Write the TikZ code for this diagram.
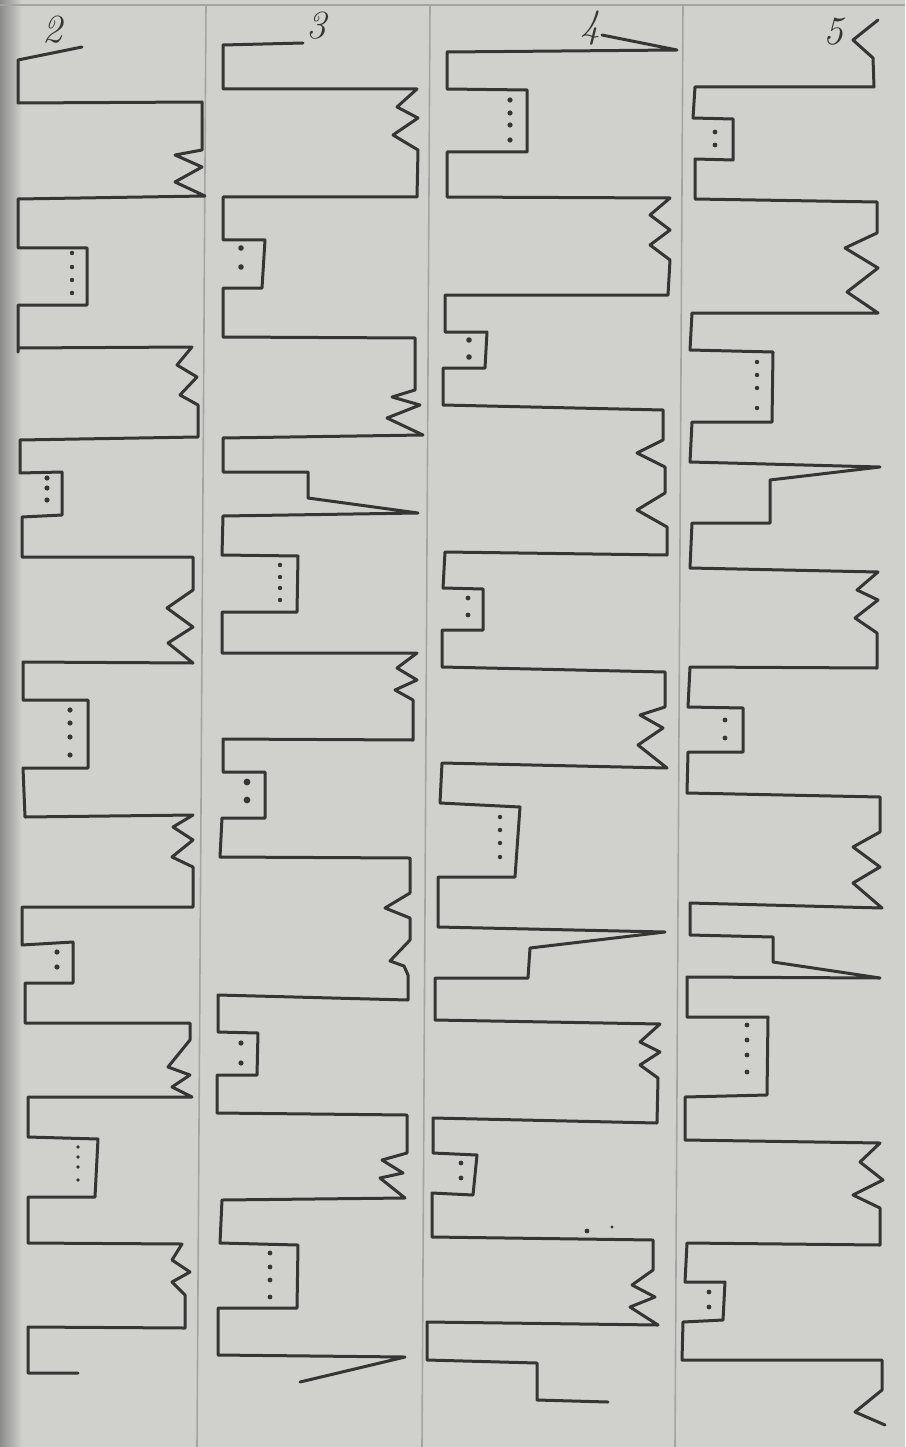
\documentclass[tikz,border=0pt]{standalone}
\usetikzlibrary{calc}
\definecolor{paper}{HTML}{D0D0CC}
\definecolor{ink}{HTML}{353535}
\definecolor{rule}{HTML}{A4A4A2}
\tikzset{
  pen/.style={draw=ink, line width=3pt, line join=round, line cap=round},
  ruling/.style={draw=rule, line width=1.6pt},
  label/.style={text=ink, font=\fontsize{40}{40}\selectfont\itshape, inner sep=0pt},
  dot/.style={fill=ink}
}
\begin{document}
\begin{tikzpicture}[x=1pt,y=-1pt]
\useasboundingbox (0,0) rectangle (905,1447);
\fill[paper] (0,0) rectangle (905,1447);
\shade[left color=black!45, right color=paper] (0,0) rectangle (22,1447);
% rulings
\draw[ruling] (0,5) -- (905,5);
\draw[ruling] (206,5) -- (197,1447);
\draw[ruling] (430,5) -- (422,1447);
\draw[ruling] (683,5) -- (675,1447);
% labels
\node[label] (n2) at (52,30) {2};
\node[label] (n3) at (316,26) {3};
\node[label] (n4) at (590,28) {4};
\node[label] (n5) at (833,32) {5};
% column 1
\draw[pen] (82,47) -- (18,60) -- (18,103) -- (202,102) -- (202,150) -- (175,155) -- (202,167) -- (175,182) -- (205,196) -- (18,199) -- (18,248) -- (87,248) -- (87,305) -- (18,305) -- (18,352) -- (18,348) -- (192,347) -- (177,365) -- (197,377) -- (180,395) -- (198,405) -- (198,437) -- (20,440) -- (20,473) -- (62,472) -- (62,515) -- (22,517) -- (22,557) -- (193,557) -- (193,590) -- (167,608) -- (193,627) -- (168,643) -- (193,663) -- (23,662) -- (23,700) -- (88,700) -- (88,768) -- (23,768) -- (25,817) -- (193,815) -- (173,827) -- (193,840) -- (172,857) -- (193,867) -- (193,907) -- (22,907) -- (22,945) -- (73,942) -- (73,983) -- (25,983) -- (25,1023) -- (190,1023) -- (190,1040) -- (168,1067) -- (190,1075) -- (172,1087) -- (192,1097) -- (28,1097) -- (28,1137) -- (98,1139) -- (95,1197) -- (28,1197) -- (28,1243) -- (182,1244) -- (172,1260) -- (190,1272) -- (172,1282) -- (185,1295) -- (185,1328) -- (28,1327) -- (28,1373) -- (78,1373);
% column 2
\draw[pen] (303,43) -- (223,45) -- (223,89) -- (417,89) -- (397,107) -- (418,118) -- (393,135) -- (418,150) -- (417,197) -- (223,197) -- (223,240) -- (265,240) -- (262,288) -- (223,288) -- (223,337) -- (415,338) -- (415,390) -- (392,397) -- (420,405) -- (387,418) -- (423,435) -- (223,438) -- (223,472) -- (308,472) -- (308,498) -- (418,513) -- (223,516) -- (222,555) -- (298,556) -- (297,612) -- (222,612) -- (222,653) -- (417,653) -- (397,668) -- (417,680) -- (395,690) -- (413,700) -- (413,740) -- (223,739) -- (223,772) -- (265,772) -- (265,818) -- (222,818) -- (220,857) -- (410,858) -- (410,893) -- (385,908) -- (410,918) -- (410,940) -- (390,961) -- (404,966) -- (408,975) -- (408,1000) -- (218,995) -- (218,1032) -- (258,1033) -- (257,1075) -- (217,1075) -- (217,1113) -- (407,1115) -- (407,1153) -- (382,1160) -- (403,1173) -- (380,1178) -- (405,1198) -- (222,1200) -- (220,1243) -- (298,1245) -- (297,1308) -- (218,1308) -- (218,1355) -- (405,1357) -- (300,1382);
% column 3
\draw[pen] (602,35) -- (677,50) -- (447,52) -- (447,89) -- (527,90) -- (527,152) -- (447,152) -- (447,197) -- (670,198) -- (650,215) -- (670,230) -- (650,245) -- (670,260) -- (668,295) -- (445,295) -- (445,332) -- (487,332) -- (485,368) -- (443,368) -- (443,405) -- (663,410) -- (663,440) -- (637,453) -- (665,467) -- (665,493) -- (637,510) -- (667,527) -- (667,555) -- (445,552) -- (443,588) -- (483,589) -- (483,630) -- (442,630) -- (442,667) -- (665,672) -- (665,707) -- (640,715) -- (663,728) -- (638,745) -- (667,768) -- (442,763) -- (440,803) -- (520,807) -- (515,877) -- (438,877) -- (438,927) -- (665,932) -- (530,948) -- (528,978) -- (435,978) -- (435,1020) -- (660,1024) -- (640,1042) -- (660,1052) -- (640,1065) -- (658,1078) -- (657,1123) -- (433,1118) -- (433,1153) -- (477,1155) -- (473,1195) -- (432,1193) -- (432,1237) -- (653,1240) -- (653,1270) -- (632,1285) -- (655,1297) -- (630,1307) -- (658,1325) -- (427,1322) -- (427,1360) -- (537,1363) -- (537,1400) -- (608,1402);
% column 4
\draw[pen] (878,20) -- (853,40) -- (873,58) -- (874,87) -- (695,87) -- (693,118) -- (733,119) -- (733,160) -- (695,159) -- (695,199) -- (877,202) -- (877,233) -- (845,248) -- (878,268) -- (847,292) -- (878,313) -- (692,313) -- (690,350) -- (773,352) -- (772,422) -- (692,422) -- (690,462) -- (880,467) -- (770,480) -- (770,523) -- (692,523) -- (690,568) -- (878,572) -- (857,590) -- (878,600) -- (855,618) -- (877,633) -- (877,668) -- (690,667) -- (688,707) -- (743,708) -- (743,752) -- (688,752) -- (687,793) -- (880,797) -- (880,832) -- (853,847) -- (880,867) -- (853,883) -- (882,908) -- (690,903) -- (690,935) -- (773,937) -- (773,962) -- (880,978) -- (687,977) -- (687,1017) -- (768,1017) -- (767,1095) -- (685,1097) -- (685,1140) -- (880,1143) -- (860,1162) -- (883,1180) -- (853,1195) -- (880,1208) -- (880,1245) -- (687,1243) -- (685,1282) -- (725,1282) -- (723,1320) -- (683,1322) -- (682,1360) -- (882,1360) -- (882,1390) -- (855,1412) -- (885,1425);
% dots, column 1
\foreach \y in {253,267,280,293} \fill[dot] (72,\y) circle (2.2);
\foreach \y in {478,488,500} \fill[dot] (47,\y) circle (2.6);
\foreach \y in {710,723,737,755} \fill[dot] (70,\y) circle (2.6);
\foreach \y in {952,967} \fill[dot] (57,\y) circle (2.6);
\foreach \y in {1147,1157,1167,1180} \fill[dot] (78,\y) circle (1.8);
% dots, column 2
\foreach \y in {248,267} \fill[dot] (241,\y) circle (2.8);
\foreach \y in {565,577,588,600} \fill[dot] (280,\y) circle (2.2);
\foreach \y in {782,800} \fill[dot] (247,\y) circle (3.4);
\foreach \y in {1043,1063} \fill[dot] (241,\y) circle (2.6);
\foreach \y in {1253,1267,1280,1297} \fill[dot] (270,\y) circle (2.4);
% dots, column 3
\foreach \y in {100,113,125,140} \fill[dot] (510,\y) circle (2.6);
\foreach \y in {340,357} \fill[dot] (469,\y) circle (2.8);
\foreach \y in {598,615} \fill[dot] (468,\y) circle (2.4);
\foreach \y in {817,830,843,857} \fill[dot] (500,\y) circle (2.2);
\foreach \y in {1163,1178} \fill[dot] (461,\y) circle (2.4);
\fill[dot] (587,1231) circle (2.4);
\fill[dot] (612,1227) circle (1.6);
% dots, column 4
\foreach \y in {132,145} \fill[dot] (715,\y) circle (2.4);
\foreach \y in {362,375,388,408} \fill[dot] (757,\y) circle (2.2);
\foreach \y in {720,738} \fill[dot] (725,\y) circle (2.4);
\foreach \y in {1025,1040,1055,1072} \fill[dot] (747,\y) circle (2.4);
\foreach \y in {1292,1307} \fill[dot] (709,\y) circle (2.4);
\end{tikzpicture}
\end{document}
